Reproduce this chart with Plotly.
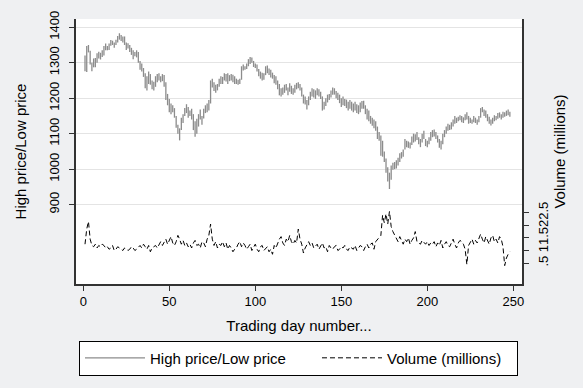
import plotly.graph_objects as go

# S&P 500 style data: trading day, daily high/low and volume (millions)
day = list(range(1, 249))

high = [
    1320, 1347, 1350, 1334, 1300, 1312, 1313, 1327, 1331, 1328,
    1335, 1347, 1354, 1347, 1354, 1364, 1362, 1357, 1365, 1375,
    1383, 1378, 1374, 1374, 1357, 1355, 1350, 1342, 1335, 1330,
    1335, 1330, 1305, 1298, 1285, 1270, 1262, 1275, 1268, 1250,
    1246, 1262, 1268, 1270, 1262, 1268, 1265, 1245, 1212, 1198,
    1185, 1180, 1172, 1150, 1125, 1115, 1145, 1155, 1172, 1183,
    1175, 1165, 1170, 1155, 1135, 1142, 1155, 1168, 1150, 1170,
    1180, 1185, 1195, 1250, 1255, 1245, 1238, 1240, 1255, 1262,
    1260, 1270, 1268, 1270, 1265, 1268, 1266, 1262, 1255, 1252,
    1255, 1290, 1295, 1290, 1298, 1310, 1316, 1315, 1305, 1298,
    1295, 1282, 1275, 1272, 1270, 1290, 1292, 1284, 1280, 1272,
    1265, 1262, 1250, 1240, 1228, 1230, 1238, 1240, 1230, 1242,
    1235, 1228, 1238, 1243, 1245, 1240, 1230, 1210, 1205, 1195,
    1205, 1218, 1228, 1225, 1222, 1228, 1225, 1218, 1205, 1190,
    1200, 1210, 1212, 1222, 1230, 1228, 1220, 1215, 1210, 1200,
    1205, 1198, 1196, 1190, 1195, 1190, 1185, 1190, 1183, 1180,
    1188, 1192, 1193, 1180, 1170, 1165, 1150, 1145, 1140, 1135,
    1120, 1105, 1095, 1080, 1050, 1030, 1005, 990, 1010, 1018,
    1020, 1025, 1032, 1045, 1048, 1055, 1085, 1080, 1078, 1075,
    1092, 1100, 1098, 1105, 1090, 1085, 1100, 1108, 1085, 1080,
    1090, 1105, 1110, 1112, 1105, 1095, 1085, 1080, 1100, 1110,
    1120, 1128, 1125, 1132, 1140, 1150, 1145, 1148, 1152, 1150,
    1146, 1155, 1160, 1150, 1145, 1140, 1150, 1145, 1140, 1150,
    1172, 1175, 1168, 1165, 1155, 1148, 1140, 1145, 1152, 1150,
    1158, 1160, 1155, 1162, 1160, 1165, 1168, 1162,
]

low = [
    1276, 1274, 1329, 1295, 1276, 1287, 1287, 1300, 1312, 1309,
    1316, 1320, 1335, 1335, 1336, 1348, 1350, 1342, 1350, 1357,
    1365, 1361, 1357, 1350, 1336, 1340, 1330, 1322, 1310, 1318,
    1315, 1300, 1280, 1275, 1260, 1228, 1222, 1240, 1238, 1225,
    1222, 1232, 1245, 1250, 1245, 1248, 1232, 1195, 1180, 1160,
    1155, 1160, 1145, 1117, 1100, 1081, 1110, 1130, 1150, 1158,
    1145, 1150, 1140, 1110, 1091, 1100, 1120, 1140, 1125, 1143,
    1158, 1160, 1165, 1185, 1230, 1220, 1215, 1222, 1232, 1240,
    1240, 1250, 1247, 1240, 1248, 1250, 1245, 1240, 1240, 1238,
    1240, 1252, 1278, 1280, 1282, 1290, 1296, 1300, 1288, 1285,
    1275, 1262, 1255, 1250, 1252, 1265, 1270, 1265, 1258, 1255,
    1242, 1238, 1225, 1208, 1205, 1210, 1215, 1222, 1208, 1218,
    1212, 1210, 1215, 1225, 1228, 1222, 1205, 1185, 1182, 1168,
    1180, 1195, 1205, 1202, 1198, 1208, 1205, 1198, 1165, 1168,
    1178, 1188, 1195, 1202, 1210, 1210, 1200, 1195, 1186, 1175,
    1180, 1178, 1172, 1165, 1170, 1165, 1160, 1165, 1158, 1155,
    1160, 1170, 1170, 1155, 1140, 1135, 1128, 1122, 1115, 1108,
    1085, 1080, 1038, 1035, 1020, 990, 965, 944, 970, 998,
    1000, 1002, 1010, 1020, 1030, 1035, 1055, 1062, 1060, 1058,
    1068, 1075, 1078, 1082, 1070, 1062, 1075, 1085, 1065, 1062,
    1070, 1080, 1090, 1092, 1085, 1075, 1060, 1055, 1070, 1090,
    1100, 1108, 1110, 1112, 1120, 1128, 1130, 1135, 1138, 1132,
    1130, 1138, 1140, 1128, 1130, 1128, 1132, 1130, 1125, 1132,
    1145, 1160, 1150, 1145, 1135, 1128, 1123, 1128, 1135, 1138,
    1142, 1145, 1140, 1145, 1148, 1150, 1152, 1148,
]

volume = [
    1.25, 1.85, 2.15, 1.45, 1.20, 1.15, 1.25, 1.10, 1.20, 1.15,
    1.25, 1.20, 1.10, 1.15, 1.05, 1.10, 1.20, 1.00, 1.05, 1.15,
    1.10, 1.05, 1.00, 1.10, 1.05, 1.00, 1.05, 1.15, 1.10, 1.00,
    1.05, 1.15, 1.20, 1.10, 1.25, 1.15, 1.05, 1.20, 0.95, 1.10,
    1.15, 1.20, 1.10, 1.25, 1.35, 1.20, 1.30, 1.45, 1.25, 1.40,
    1.55, 1.30, 1.20, 1.35, 1.60, 1.45, 1.25, 1.40, 1.20, 1.30,
    1.15, 1.25, 1.10, 1.30, 1.40, 1.20, 1.25, 1.10, 1.35, 1.30,
    1.15, 1.45, 1.60, 2.05, 1.45, 1.20, 1.35, 1.10, 1.25, 1.20,
    1.35, 1.15, 1.30, 1.05, 1.20, 1.10, 0.95, 1.05, 1.10, 1.25,
    1.35, 1.15, 1.30, 1.20, 1.05, 1.15, 1.25, 1.00, 1.10, 1.25,
    1.05, 0.95, 1.15, 1.20, 1.00, 1.10, 1.15, 0.95, 1.05, 0.85,
    1.20, 1.10, 1.30, 1.45, 1.55, 1.30, 1.20, 1.45, 1.35, 1.60,
    1.35, 1.25, 1.40, 1.30, 1.85, 1.45, 1.25, 0.90, 1.10, 1.25,
    1.35, 1.20, 1.30, 1.10, 1.20, 1.25, 1.05, 1.20, 1.30, 1.10,
    1.15, 0.95, 1.20, 1.10, 1.05, 1.15, 1.20, 1.00, 1.05, 1.15,
    1.10, 1.20, 1.05, 1.00, 1.15, 1.10, 1.05, 1.20, 1.00, 1.10,
    1.20, 1.15, 1.00, 1.15, 1.25, 1.10, 1.25, 1.30, 1.05, 1.35,
    1.45, 1.50, 1.60, 2.40, 2.10, 2.45, 2.05, 2.55, 1.95, 1.75,
    1.60, 1.50, 1.35, 1.55, 1.40, 1.25, 1.45, 1.35, 1.50, 1.25,
    1.40, 1.50, 1.75, 1.35, 1.30, 1.25, 1.40, 1.30, 1.25, 1.35,
    1.20, 1.30, 1.25, 1.35, 1.15, 1.30, 1.20, 1.40, 1.10, 1.25,
    1.35, 1.20, 1.15, 1.30, 1.45, 1.25, 1.10, 1.30, 1.40, 1.35,
    1.25, 1.05, 0.45, 1.20, 1.35, 1.45, 1.25, 1.40, 1.30, 1.50,
    1.65, 1.45, 1.30, 1.55, 1.40, 1.25, 1.50, 1.60, 1.35, 1.45,
    1.30, 1.55, 1.45, 1.15, 0.40, 0.70, 0.85, 0.95,
]

xticks = [0, 50, 100, 150, 200, 250]
yticks = [900, 1000, 1100, 1200, 1300, 1400]
vticks = [0.5, 1, 1.5, 2, 2.5]
vtick_text = [".5", "1", "1.5", "2", "2.5"]

# range spikes: one vertical segment per day, separated by None
spike_x, spike_y = [], []
for d, h, l in zip(day, high, low):
    spike_x += [d, d, None]
    spike_y += [l, h, None]

font = "Liberation Sans, Arial, Helvetica, sans-serif"
axcol = "#333333"

fig = go.Figure()
fig.add_trace(go.Scatter(x=spike_x, y=spike_y, mode="lines",
                         line=dict(color="#8c8c8c", width=1.3),
                         name="High price/Low price", legendwidth=162))
fig.add_trace(go.Scatter(x=day, y=volume, mode="lines", yaxis="y2",
                         line=dict(color="black", width=1, dash="5px,3px"),
                         name="Volume (millions)", legendwidth=125))

fig.update_layout(
    width=583, height=388,
    margin=dict(l=76, r=61, t=19, b=102),
    paper_bgcolor="#eff0f2", plot_bgcolor="white",
    font=dict(family=font, size=13, color="black"),
    xaxis=dict(range=[-4.24, 255.06], tickvals=xticks, ticks="outside", ticklen=5,
               tickcolor=axcol, showline=True, linecolor=axcol, linewidth=1.5,
               showgrid=False, zeroline=False, automargin=False,
               title=dict(text="Trading day number...", font=dict(size=15), standoff=12)),
    yaxis=dict(range=[676.2, 1423.2], tickvals=yticks, tickangle=-90, ticks="outside",
               ticklen=5, tickcolor=axcol, showline=True, linecolor=axcol, linewidth=1.5,
               showgrid=True, gridcolor="#e4e4e4", zeroline=False, ticklabelstandoff=5,
               automargin=False,
               title=dict(text="High price/Low price", font=dict(size=15), standoff=17)),
    yaxis2=dict(range=[-0.33, 10.19], tickvals=vticks, ticktext=vtick_text, tickangle=-90,
                overlaying="y", side="right", ticks="outside", ticklen=5, tickcolor=axcol,
                showline=True, linecolor=axcol, linewidth=1.5, showgrid=False, zeroline=False,
                ticklabelstandoff=4, automargin=False,
                title=dict(text="Volume (millions)", font=dict(size=15), standoff=0)),
    legend=dict(orientation="h", x=0.0067, y=-0.2135, xanchor="left", yanchor="top",
                bgcolor="white", bordercolor="black", borderwidth=1,
                itemwidth=60, font=dict(size=15)),
)

# drop the browser's default page margin so the figure sits at the top-left corner
fig.write_html("out.html", config={"displayModeBar": False},
               post_script="document.body.style.margin = '0px';")
